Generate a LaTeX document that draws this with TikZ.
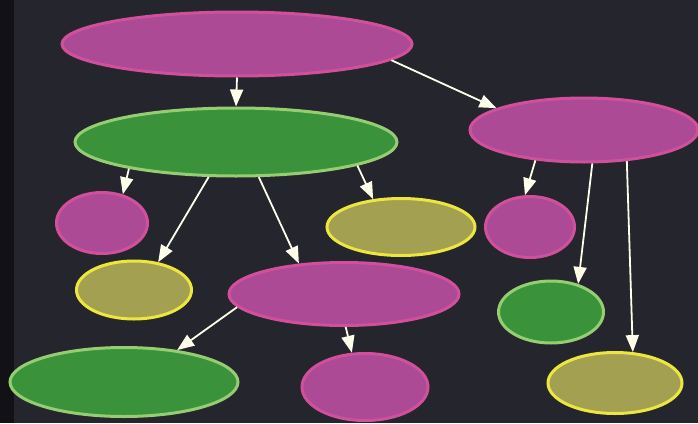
\documentclass[tikz,border=0pt]{standalone}
\usetikzlibrary{arrows.meta,shapes.geometric}
\definecolor{fondo}{RGB}{37,37,45}
\definecolor{borde}{RGB}{18,18,22}
\definecolor{magrel}{RGB}{172,74,150}
\definecolor{magbor}{RGB}{210,80,155}
\definecolor{verrel}{RGB}{58,146,58}
\definecolor{verbor}{RGB}{150,205,115}
\definecolor{olirel}{RGB}{164,160,82}
\definecolor{olibor}{RGB}{236,230,62}
\begin{document}
\begin{tikzpicture}[x=1pt, y=-1pt,
    elipse/.style={ellipse, inner sep=0pt, line width=3pt},
    magenta/.style={elipse, fill=magrel, draw=magbor},
    verde/.style={elipse, fill=verrel, draw=verbor},
    oliva/.style={elipse, fill=olirel, draw=olibor},
    flecha/.style={draw=white!92!yellow, line width=1.8pt, -{Triangle[width=13pt,length=17pt]}}]
    % Fondo
    \fill[fondo] (0,0) rectangle (698,423);
    \fill[borde] (0,0) rectangle (14,423);
    \useasboundingbox (0,0) rectangle (698,423);

    % Primer nivel
    \node[magenta, minimum width=350pt, minimum height=64pt] (raiz) at (237,44) {};
    \node[magenta, minimum width=228pt, minimum height=64pt] (der) at (584,130) {};

    % Segundo nivel
    \node[verde, minimum width=322pt, minimum height=68pt] (centro) at (236,142) {};
    \node[magenta, minimum width=91pt, minimum height=61pt] (izqA) at (102,223) {};
    \node[oliva, minimum width=148pt, minimum height=57pt] (olivoA) at (401,227) {};
    \node[magenta, minimum width=89pt, minimum height=61pt] (derA) at (530,227) {};

    % Tercer nivel
    \node[oliva, minimum width=115pt, minimum height=58pt] (olivoB) at (134,290) {};
    \node[magenta, minimum width=230pt, minimum height=63pt] (medio) at (344,294) {};
    \node[verde, minimum width=105pt, minimum height=62pt] (derB) at (551,312) {};

    % Cuarto nivel
    \node[verde, minimum width=228pt, minimum height=69pt] (abajoA) at (124,382) {};
    \node[magenta, minimum width=126pt, minimum height=67pt] (abajoB) at (365,387) {};
    \node[oliva, minimum width=134pt, minimum height=61pt] (abajoC) at (615,383) {};

    % Flechas
    \draw[flecha] (raiz.south) -- (centro.north);
    \draw[flecha] (raiz.-6) -- (der.166);
    \draw[flecha] (centro.194) -- (izqA.54);
    \draw[flecha] (centro.232) -- (olivoB.49);
    \draw[flecha] (centro.-57) -- (medio.146);
    \draw[flecha] (centro.-11) -- (olivoA.135);
    \draw[flecha] (der.212) -- (derA.99);
    \draw[flecha] (der.-76) -- (derB.46);
    \draw[flecha] (der.-36) -- (abajoC.60);
    \draw[flecha] (medio.187) -- (abajoA.31);
    \draw[flecha] (medio.-87) -- (abajoB.111);
\end{tikzpicture}
\end{document}
